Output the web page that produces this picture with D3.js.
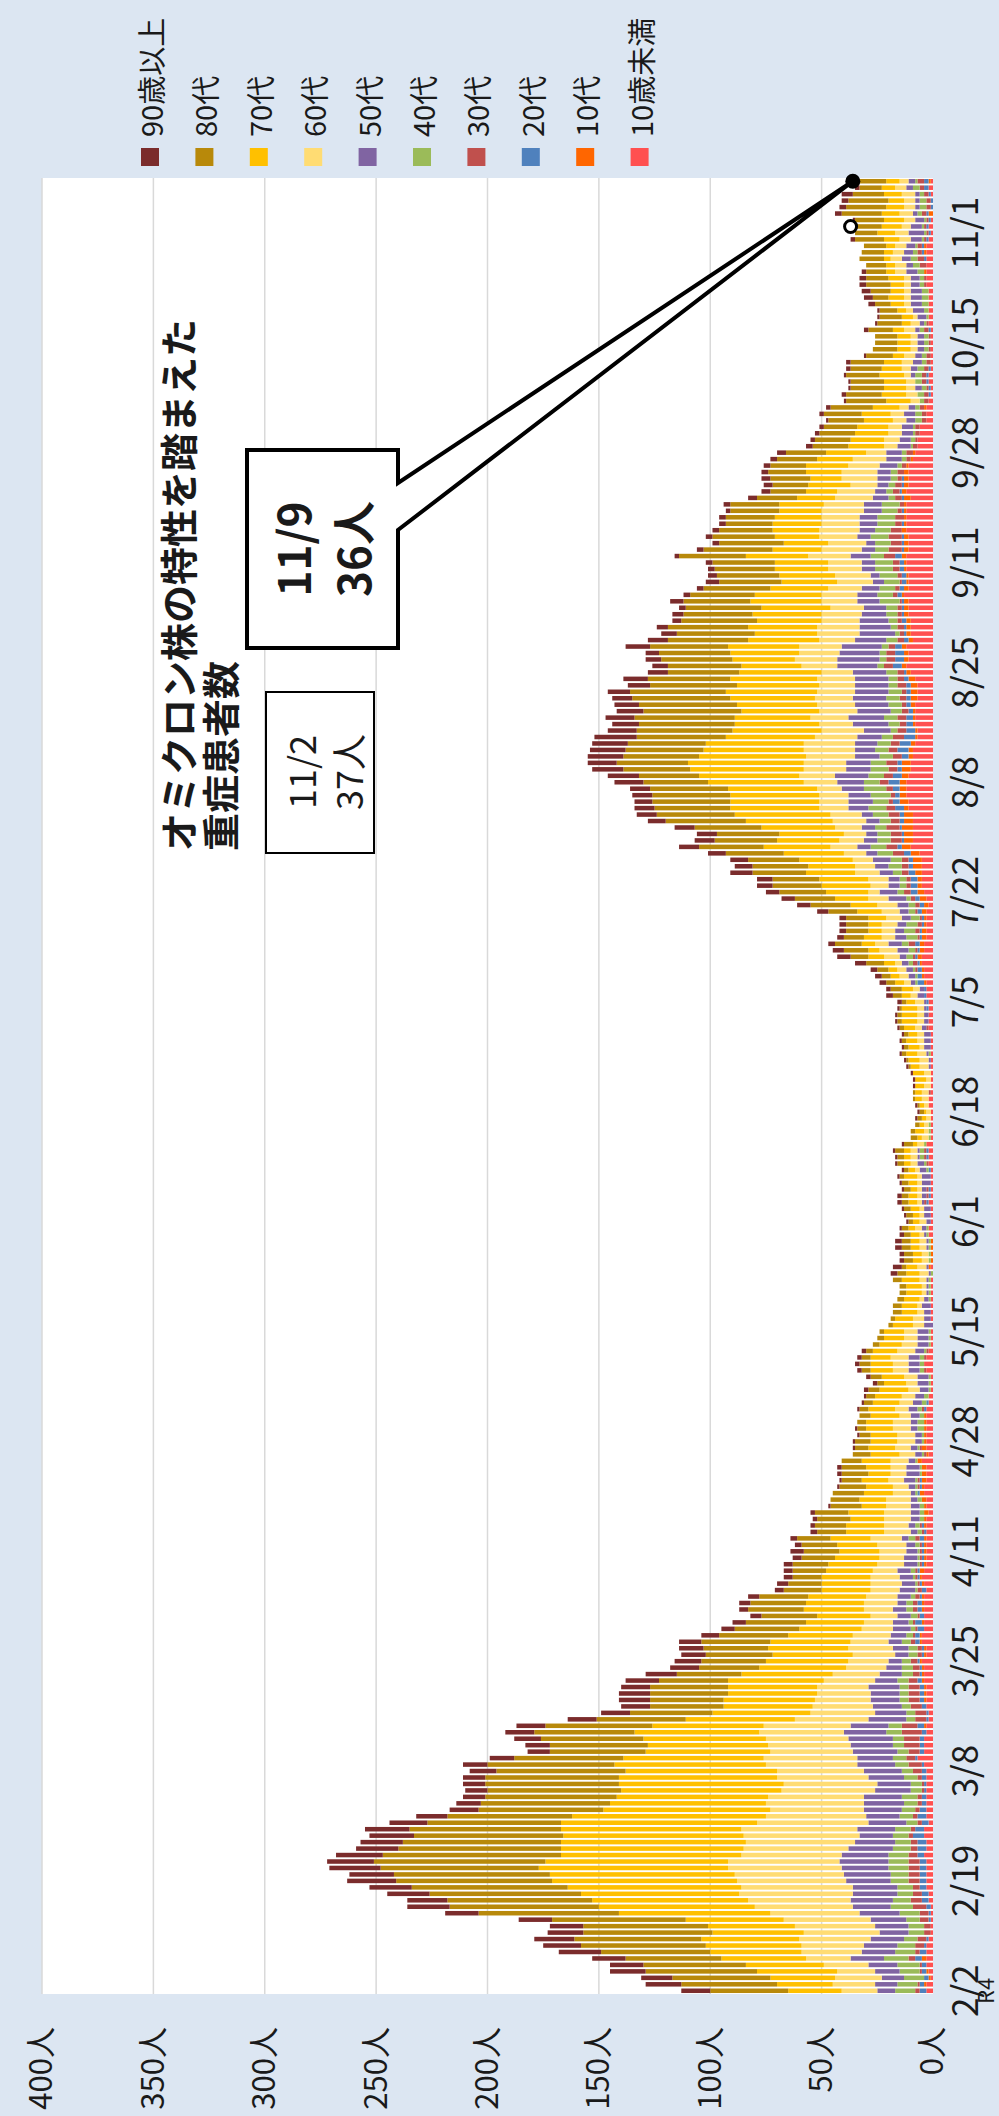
<!DOCTYPE html>
<html lang="ja">
<head>
<meta charset="UTF-8">
<title>重症患者数</title>
<script src="https://d3js.org/d3.v7.min.js"></script>
<style>
  html, body { margin: 0; padding: 0; background: #dce6f2; }
  svg { display: block; }
  text { font-family: "Noto Sans CJK JP", "Noto Sans", sans-serif; fill: #1a1a1a; }
</style>
</head>
<body>
<div id="chart"></div>
<script>
// daily counts from 2/2 (R4) to 11/9, one value per day
const over90 = [
  13,16,14,16,15,15,19,17,18,16, 15,15,15,19,18,19,19,22,20,23, 21,21,19,19,20,20,17,14,13,11,
  10,10,10,10,12,11,11,10,11,12, 13,13,13,13,13,14,14,13,15,14, 13,12,11,11,10,8,6,6,5,4,
  5,5,4,5,4,4,4,4,6,3, 3,3,2,2,2,1,0,0,1,1, 2,2,0,0,1,1,1,1,0,0,
  1,1,1,2,2,2,2,2,2,2, 0,0,0,0,0,0,0,0,0,0, 0,3,4,2,2,3,3,2,1,1,
  1,1,2,2,1,1,1,1,1,1, 1,1,0,0,0,1,1,1,0,0, 1,1,1,1,1,1,1,1,1,1,
  1,1,1,2,3,2,3,3,3,5, 6,5,3,3,3,3,3,5,6,6, 6,7,7,10,8,8,8,9,9,9,
  9,8,9,9,8,9,9,13,14,14, 13,16,16,16,19,13,12,13,12,11, 9,10,10,11,9,7,7,6,11,9,
  7,5,4,5,3,6,3,3,6,4, 3,3,2,3,3,3,3,3,3,2, 3,4,4,4,4,3,3,3,4,3,
  2,2,2,1,2,2,1,2,1,1, 1,2,2,1,0,0,0,2,1,1, 1,3,4,4,3,3,2,0,0,0,
  0,2,0,3,1,3,3,3,5,2,3
];
const age80s = [
  35,43,44,50,46,43,49,56,57,58, 56,60,63,67,65,68,70,70,70,71, 77,80,73,71,67,68,60,56,56,58,
  59,60,60,60,58,57,49,43,44,46, 45,48,40,37,33,33,35,35,31,29, 27,29,30,29,31,31,29,27,25,25,
  25,22,17,15,13,15,16,15,16,16, 15,13,14,15,15,14,13,14,12,9, 12,11,9,8,6,7,5,4,4,5,
  4,4,4,5,3,5,4,5,4,3, 3,3,2,2,2,4,4,3,3,3, 4,4,2,4,4,4,4,3,3,2,
  3,3,3,3,3,3,2,2,3,3, 4,4,3,2,2,2,2,1,1,1, 0,0,0,1,1,2,2,2,2,2,
  2,2,1,2,4,5,4,4,5,8, 8,11,12,9,10,10,10,13,18,18, 21,22,21,24,25,23,26,29,28,28,
  30,36,35,34,35,35,35,29,27,30, 32,34,35,35,40,43,43,45,44,44, 44,43,39,37,32,33,32,32,35,36,
  35,36,34,31,34,30,29,30,28,28, 27,28,30,31,29,28,24,21,22,22, 22,18,16,16,18,17,16,18,18,16,
  16,16,15,16,17,19,18,16,15,15, 15,14,15,12,11,10,10,11,11,10, 8,7,7,9,11,10,9,9,11,10,
  10,13,10,11,13,18,18,18,14,10,12
];
const age70s = [
  24,25,29,36,35,38,41,43,44,41, 39,44,68,70,70,71,78,83,83,85, 82,81,82,83,81,81,88,87,75,70,
  68,72,74,71,68,68,63,56,54,55, 56,50,49,44,40,41,40,40,43,41, 39,37,36,36,36,29,28,26,24,27,
  26,26,22,22,22,21,22,20,18,18, 18,17,17,15,16,11,12,13,12,12, 10,11,13,13,12,12,12,12,12,13,
  12,12,12,13,10,10,10,10,9,11, 10,9,9,9,8,7,7,7,7,7, 8,6,5,4,4,4,4,4,3,3,
  3,4,4,4,3,4,6,3,3,3, 3,2,2,4,2,2,1,2,3,3, 4,5,5,4,5,5,5,5,4,5,
  7,7,7,4,4,5,4,4,4,5, 7,5,6,8,6,6,8,11,12,15, 19,22,22,22,21,24,27,30,28,29,
  33,39,43,40,40,40,40,43,45,51, 52,48,45,44,40,40,38,34,35,36, 38,41,37,39,37,27,28,31,32,32,
  28,31,29,31,31,32,30,26,25,25, 24,24,28,22,20,20,21,22,21,19, 20,17,14,19,14,16,19,16,18,16,
  15,15,14,13,13,12,11,11,10,10, 11,9,8,5,6,6,6,5,4,5, 4,6,7,6,6,7,4,4,3,4,
  4,7,8,9,9,8,8,7,8,6,6
];
const age60s = [
  16,19,21,17,20,20,27,28,32,34, 36,39,40,44,46,51,50,49,49,51, 50,45,47,49,52,52,50,45,42,44,
  43,42,42,41,39,41,42,37,37,37, 38,39,33,29,27,25,24,23,23,21, 18,18,19,20,17,17,14,13,12,13,
  15,14,13,14,13,11,12,11,12,13, 14,12,11,12,12,11,11,8,7,7, 7,7,8,7,7,8,8,8,8,5,
  6,6,6,5,5,6,7,7,8,8, 7,6,6,5,5,3,2,2,2,2, 3,4,4,3,3,3,3,2,3,3,
  2,2,2,2,2,2,2,2,3,3, 3,3,3,2,2,2,2,2,3,3, 3,2,3,4,4,4,2,3,3,3,
  3,3,3,4,3,3,3,4,4,3, 7,8,6,6,6,7,7,8,9,9, 5,8,9,11,9,9,10,12,11,10,
  12,15,14,13,13,13,11,15,16,19, 19,22,23,23,19,19,15,17,17,17, 17,17,16,17,14,16,19,18,19,16,
  19,19,17,18,15,16,16,15,16,16, 15,15,19,18,17,17,18,17,17,19, 18,17,17,12,16,16,14,15,9,6,
  7,6,6,6,6,4,4,5,4,4, 3,4,5,5,3,3,3,5,4,2, 3,3,3,3,3,3,5,5,5,5,
  5,5,6,4,5,6,5,5,6,5,4
];
const age50s = [
  8,10,10,11,13,15,15,15,15,13, 15,16,18,17,19,20,20,20,21,21, 22,21,20,18,15,17,17,15,17,18,
  17,16,15,16,17,17,16,20,19,20, 19,17,17,14,13,13,13,14,10,10, 7,6,6,7,6,7,8,7,6,6,
  4,6,7,6,6,6,6,6,5,4, 3,3,3,4,4,4,3,2,3,5, 6,6,3,3,3,3,3,3,3,4,
  4,4,4,4,5,5,5,5,5,4, 5,5,5,4,3,3,4,2,1,1, 1,1,1,0,0,1,1,1,2,2,
  3,3,1,2,2,4,4,3,3,1, 1,0,0,0,0,0,0,0,0,0, 0,0,0,1,1,1,3,3,3,2,
  2,2,1,1,3,2,2,3,3,3, 3,5,6,5,4,4,4,4,5,8, 8,5,5,6,6,8,5,6,6,5,
  6,6,5,9,11,10,10,12,15,11, 11,11,9,10,11,12,16,16,15,15, 15,15,15,15,15,18,19,18,18,14,
  16,14,13,11,10,10,9,8,5,4, 6,6,9,6,4,6,7,8,8,8, 8,7,5,5,6,6,8,7,7,6,
  5,5,5,4,5,3,0,0,3,0, 2,3,4,3,3,3,3,2,2,4, 5,5,5,5,4,4,5,3,4,4,
  4,5,7,5,4,2,2,2,2,3,3
];
const age40s = [
  9,9,9,9,10,11,9,8,6,7, 7,6,9,10,8,7,7,8,8,9, 9,9,8,7,7,7,5,6,6,6,
  7,5,5,6,5,6,6,5,5,5, 7,6,4,4,4,4,4,4,5,5, 5,4,4,4,4,3,2,2,3,3,
  3,2,1,1,1,2,1,1,1,2, 3,2,2,2,2,2,2,1,1,1, 1,1,1,1,1,1,1,3,3,2,
  2,2,2,1,1,1,2,2,2,1, 1,1,1,0,0,0,0,1,1,1, 1,1,0,1,1,1,1,1,1,0,
  0,0,0,0,0,0,0,1,1,2, 2,1,1,1,1,0,0,0,0,0, 0,0,0,0,0,1,0,0,0,0,
  0,0,0,0,0,0,1,1,1,2, 3,3,3,5,5,5,4,3,3,2, 3,3,3,4,6,5,7,7,6,6,
  5,5,7,8,7,9,10,7,7,8, 7,6,6,6,5,3,5,6,5,6, 6,6,4,4,5,3,3,3,3,5,
  2,3,4,5,5,9,7,7,7,8, 8,8,6,6,7,8,7,8,8,7, 8,3,3,3,3,3,2,2,2,1,
  2,1,1,3,3,2,2,3,2,3, 3,3,2,2,2,2,2,2,1,1, 2,3,3,3,2,2,3,3,3,2,
  1,1,1,1,1,2,3,3,2,3,1
];
const age30s = [
  2,1,0,1,1,3,2,4,4,3, 3,4,4,6,5,4,3,5,5,5, 5,4,3,3,2,2,2,2,2,2,
  2,1,1,2,4,6,4,5,7,7, 9,7,5,5,5,5,5,5,4,3, 3,3,2,2,2,1,1,1,1,2,
  2,2,2,1,1,1,1,1,1,1, 2,1,1,0,0,0,0,0,1,1, 0,0,0,1,1,0,0,0,0,0,
  1,0,0,0,0,0,1,0,1,1, 0,0,0,0,0,0,0,0,0,0, 0,0,0,0,0,0,0,0,0,0,
  0,0,1,1,1,0,0,0,1,1, 1,0,0,0,0,0,0,0,0,1, 0,0,0,0,0,0,0,0,0,1,
  0,0,0,0,0,0,0,0,1,2, 1,1,3,1,2,2,1,1,2,2, 3,2,2,3,3,3,5,5,5,5,
  6,4,5,4,2,2,3,4,4,4, 5,4,4,4,5,4,3,4,3,2, 3,2,4,3,3,4,4,4,3,3,
  2,3,2,2,2,1,2,2,1,2, 3,3,5,6,5,6,5,3,4,2, 2,3,3,3,2,3,2,2,3,2,
  1,2,2,2,2,2,2,2,1,2, 2,2,2,2,1,1,1,2,1,0, 0,0,0,0,1,1,0,3,3,2,
  2,1,1,1,1,2,2,2,2,2,3
];
const age20s = [
  3,2,2,2,2,3,3,1,1,0, 0,1,1,2,3,3,3,3,3,3, 3,3,4,4,5,4,3,4,3,2,
  2,1,1,2,2,1,1,2,2,2, 2,3,1,1,2,2,2,2,2,1, 1,1,1,1,2,2,3,3,2,2,
  2,1,2,1,1,1,1,1,1,1, 2,1,1,0,0,0,0,1,1,1, 0,0,0,0,0,0,0,0,0,0,
  1,1,0,0,0,0,0,0,0,0, 0,0,0,0,0,0,0,0,0,0, 0,0,0,0,0,0,0,0,0,0,
  0,0,1,1,1,0,0,1,0,1, 1,0,0,0,0,0,0,0,0,0, 0,0,0,0,0,0,0,0,0,0,
  0,0,1,1,1,1,3,2,2,1, 1,1,2,1,1,1,1,2,2,2, 3,3,3,3,2,2,3,2,1,1,
  1,2,2,4,3,2,3,5,4,2, 2,3,5,5,5,4,3,3,2,2, 2,2,2,2,1,4,4,4,3,2,
  1,1,2,1,1,1,2,2,2,2, 2,2,3,1,1,1,0,1,0,1, 0,1,1,1,1,0,0,0,0,0,
  0,0,0,0,0,0,0,1,1,1, 1,1,0,0,0,0,0,1,0,0, 0,0,0,0,0,0,0,0,1,1,
  1,1,1,1,1,1,1,1,1,2,2
];
const age10s = [
  0,1,1,1,0,2,0,0,0,0, 0,0,0,0,0,0,0,0,0,0, 0,0,0,0,0,0,0,0,0,0,
  0,0,0,0,0,0,0,0,0,0, 0,1,0,0,0,1,1,1,1,1, 1,1,1,1,1,1,0,1,0,1,
  1,1,0,1,1,2,1,1,1,1, 1,0,1,1,2,1,2,2,1,2, 2,2,2,1,2,1,1,1,1,1,
  0,0,0,0,0,0,0,0,0,0, 0,0,0,0,0,0,0,0,0,0, 0,0,1,1,1,1,1,0,0,0,
  0,0,0,0,0,0,0,0,0,0, 0,0,0,0,0,0,0,0,0,0, 0,0,0,0,0,0,0,0,0,0,
  0,0,0,0,0,0,1,1,1,1, 2,2,2,2,2,1,1,2,2,3, 3,2,2,3,4,4,4,4,4,4,
  5,4,4,2,4,3,3,3,3,4, 4,2,2,2,1,1,1,1,1,2, 3,3,3,3,2,2,2,2,2,2,
  2,2,2,2,2,2,1,2,1,1, 1,1,2,2,2,2,2,1,1,1, 1,3,2,2,2,2,1,1,1,0,
  0,0,0,0,0,1,0,0,0,0, 0,0,0,0,0,0,0,0,0,0, 0,0,0,0,0,0,1,0,0,1,
  1,0,0,0,0,2,0,0,0,0,1
];
const under10 = [
  3,3,1,2,3,3,3,3,2,1, 1,1,1,1,2,2,3,3,3,3, 3,4,3,3,4,4,2,3,3,3,
  3,3,3,3,3,4,7,4,4,4, 3,3,2,2,3,3,3,3,4,4, 4,5,3,3,5,5,4,4,4,4,
  4,4,3,4,5,4,3,3,3,3, 3,3,3,3,2,3,3,4,4,3, 3,3,5,2,3,3,3,3,3,3,
  3,2,2,1,1,1,3,4,3,2, 1,1,1,0,1,1,1,1,1,1, 1,0,1,0,0,0,0,2,2,1,
  1,1,2,1,1,1,1,1,2,2, 2,3,1,1,1,1,1,2,2,1, 1,1,1,1,1,1,1,1,1,2,
  2,2,2,2,3,3,3,4,4,5, 5,4,4,3,3,3,3,3,2,3, 4,5,5,5,5,5,6,10,9,9,
  9,9,9,11,11,12,12,12,11,10, 10,9,9,8,7,7,8,8,8,8, 7,7,7,8,10,12,11,11,12,9,
  10,10,10,11,11,11,13,11,11,11, 12,12,12,11,11,11,12,12,12,12, 12,10,12,11,11,11,11,9,8,7,
  7,6,6,3,3,3,2,1,1,2, 2,1,1,1,1,1,1,1,2,2, 2,2,2,2,3,3,3,3,3,3,
  3,2,1,2,1,0,0,0,1,2,1
];

const ageGroups = ["10歳未満", "10代", "20代", "30代", "40代", "50代", "60代", "70代", "80代", "90歳以上"];
const seriesData = [under10, age10s, age20s, age30s, age40s, age50s, age60s, age70s, age80s, over90];
const colors = ["#ff5050", "#ff6600", "#4f81bd", "#c0504d", "#9bbb59", "#8064a2", "#ffdc73", "#ffc000", "#b8890a", "#7b2c2c"];
const tickLabels = ["2/2", "2/19", "3/8", "3/25", "4/11", "4/28", "5/15", "6/1", "6/18", "7/5",
                    "7/22", "8/8", "8/25", "9/11", "9/28", "10/15", "11/1"];
const valueTicks = [0, 50, 100, 150, 200, 250, 300, 350, 400];
const titleLines = ["オミクロン株の特性を踏まえた", "重症患者数"];
const markPrev = { date: "11/2", label: "37人" };
const markLast = { date: "11/9", label: "36人" };

// the chart is laid out in landscape and turned a quarter turn to fit the page
const pageW = 999, pageH = 2116;
const plot = { left: 122, right: 1938, top: 42, bottom: 933 };

const startDay = new Date(2022, 1, 2);
const days = d3.timeDay.range(startDay, d3.timeDay.offset(startDay, under10.length));
const fmt = d3.timeFormat("%-m/%-d");

const rows = days.map((d, i) => {
  const r = { key: i, label: fmt(d) };
  ageGroups.forEach((g, k) => { r[g] = seriesData[k][i]; });
  return r;
});

const x = d3.scaleBand()
  .domain(rows.map(r => r.key))
  .range([plot.left, plot.right])
  .paddingInner(0.3)
  .paddingOuter(0.15);

const y = d3.scaleLinear().domain([0, 400]).range([plot.bottom, plot.top]);

const svg = d3.select("#chart").append("svg")
  .attr("width", pageW)
  .attr("height", pageH);

svg.append("rect").attr("width", pageW).attr("height", pageH).attr("fill", "#dce6f2");

const g = svg.append("g").attr("transform", `translate(0,${pageH}) rotate(-90)`);

// plot area
g.append("rect")
  .attr("x", plot.left).attr("y", plot.top)
  .attr("width", plot.right - plot.left).attr("height", plot.bottom - plot.top)
  .attr("fill", "#fff");

g.append("g").selectAll("line")
  .data(valueTicks.filter(v => v > 0))
  .join("line")
  .attr("x1", plot.left).attr("x2", plot.right)
  .attr("y1", d => y(d)).attr("y2", d => y(d))
  .attr("stroke", "#d9d9d9").attr("stroke-width", 1.5);

// stacked bars
const stacked = d3.stack().keys(ageGroups)(rows);

g.append("g").selectAll("g")
  .data(stacked)
  .join("g")
  .attr("fill", (d, i) => colors[i])
  .selectAll("rect")
  .data(d => d.filter(s => s[1] > s[0]))
  .join("rect")
  .attr("x", d => x(d.data.key))
  .attr("width", x.bandwidth())
  .attr("y", d => y(d[1]))
  .attr("height", d => y(d[0]) - y(d[1]));

// value axis
const yAxis = g.append("g")
  .attr("transform", `translate(${plot.left},0)`)
  .call(d3.axisLeft(y).tickValues(valueTicks).tickSize(0).tickPadding(33).tickFormat(d => d + "人"));
yAxis.select(".domain").remove();
yAxis.selectAll("text").attr("font-size", 31).attr("font-family", null).attr("fill", "#1a1a1a");

// date axis
const tickKeys = rows.filter(r => tickLabels.includes(r.label)).map(r => r.key);
const xAxis = g.append("g")
  .attr("transform", `translate(0,${plot.bottom})`)
  .call(d3.axisBottom(x).tickValues(tickKeys).tickSize(0).tickPadding(20).tickFormat(k => rows[k].label));
xAxis.select(".domain").remove();
xAxis.selectAll("text").attr("font-size", 35).attr("font-family", null).attr("fill", "#1a1a1a");

g.append("text")
  .attr("x", x(0) + x.bandwidth() / 2)
  .attr("y", 984)
  .attr("text-anchor", "middle")
  .attr("dominant-baseline", "central")
  .attr("font-size", 22)
  .text("R4");

// legend
const legend = g.append("g").selectAll("g")
  .data(ageGroups.map((name, i) => ({ name, color: colors[i] })).reverse())
  .join("g")
  .attr("transform", (d, i) => `translate(1950,${150 + i * 54.4})`);

legend.append("rect")
  .attr("x", 0).attr("y", -9).attr("width", 18).attr("height", 18)
  .attr("fill", d => d.color);

legend.append("text")
  .attr("x", 29).attr("y", 0)
  .attr("dominant-baseline", "central")
  .attr("font-size", 29)
  .text(d => d.name);

// title
g.append("g").selectAll("text")
  .data(titleLines)
  .join("text")
  .attr("x", 1265)
  .attr("y", (d, i) => 176 + i * 42)
  .attr("dominant-baseline", "central")
  .attr("font-size", 38)
  .attr("font-weight", "bold")
  .text(d => d);

// box for 11/2
const prevBox = g.append("g");
prevBox.append("rect")
  .attr("x", 1263).attr("y", 266).attr("width", 161).attr("height", 108)
  .attr("fill", "#fff").attr("stroke", "#000").attr("stroke-width", 2);
prevBox.selectAll("text")
  .data([markPrev.date, markPrev.label])
  .join("text")
  .attr("x", 1344)
  .attr("y", (d, i) => 300 + i * 47)
  .attr("text-anchor", "middle")
  .attr("dominant-baseline", "central")
  .attr("font-size", 36)
  .text(d => d);

// callout for 11/9
const lastKey = rows.findIndex(r => r.label === markLast.date);
const prevKey = rows.findIndex(r => r.label === markPrev.date);
const total = r => ageGroups.reduce((s, k) => s + r[k], 0);
const tip = [x(lastKey) + x.bandwidth() / 2, y(total(rows[lastKey]))];

const bx1 = 1468, bx2 = 1666, by1 = 247, by2 = 398;
g.append("path")
  .attr("d", `M${bx1},${by1}L${bx2},${by1}L${bx2},${by2}L1633,${by2}L${tip[0]},${tip[1]}L1586,${by2}L${bx1},${by2}Z`)
  .attr("fill", "#fff").attr("stroke", "#000").attr("stroke-width", 4)
  .attr("stroke-linejoin", "miter");

g.append("g").selectAll("text")
  .data([markLast.date, markLast.label])
  .join("text")
  .attr("x", (bx1 + bx2) / 2)
  .attr("y", (d, i) => 292 + i * 60)
  .attr("text-anchor", "middle")
  .attr("dominant-baseline", "central")
  .attr("font-size", 44)
  .attr("font-weight", "bold")
  .text(d => d);

// markers
g.append("circle")
  .attr("cx", x(prevKey) + x.bandwidth() / 2)
  .attr("cy", y(total(rows[prevKey])))
  .attr("r", 6)
  .attr("fill", "#fff").attr("stroke", "#000").attr("stroke-width", 3);

g.append("circle")
  .attr("cx", tip[0]).attr("cy", tip[1])
  .attr("r", 7.5)
  .attr("fill", "#000");
</script>
</body>
</html>
